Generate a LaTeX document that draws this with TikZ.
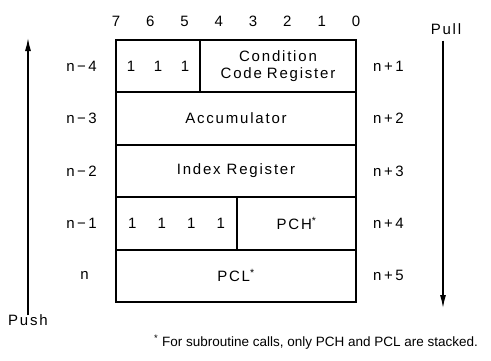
\documentclass[tikz,border=0pt]{standalone}
\usepackage{fontspec}
\setmainfont{Liberation Sans}[LetterSpace=12]
\usepackage{tikz}
\usetikzlibrary{positioning}
\usetikzlibrary{arrows.meta}
\tikzset {
  % one register cell of the stacked frame
  cell/.style = {draw, line width=2pt, inner sep=0pt, outer sep=0pt,
    minimum height=52.4pt, align=center, font=\fontsize{15}{17}\selectfont},
  % bit numbers and stack addresses
  lab/.style = {inner sep=1pt, font=\fontsize{15}{17}\selectfont},
  % push and pull directions
  stackdir/.style = {line width=1.3pt, -{Latex[length=13pt, width=6pt]}},
}
\newcommand{\one}{\makebox[27pt]{1}}

\begin{document}
\begin{tikzpicture}[x=1pt, y=1pt]
  \useasboundingbox (0,0) rectangle (491,360);

  % bit numbers
  \node[lab] (b7) at (116,339) {7};
  \node[lab] (b6) at (150.3,339) {6};
  \node[lab] (b5) at (184.6,339) {5};
  \node[lab] (b4) at (218.9,339) {4};
  \node[lab] (b3) at (253.1,339) {3};
  \node[lab] (b2) at (287.4,339) {2};
  \node[lab] (b1) at (321.7,339) {1};
  \node[lab] (b0) at (356,339) {0};

  % the stacked registers
  \node[cell, text width=84pt, anchor=north west] (ones3) at (116,320) {\one\one\one};
  \node[cell, text width=156pt] (ccr) [right=0pt of ones3] {Condition\\Code Register};
  \node[cell, minimum width=240pt] (acc) [below=0pt of ones3.south west, anchor=north west] {Accumulator};
  \node[cell, minimum width=240pt] (idx) [below=0pt of acc] {Index Register};
  \node[cell, text width=121pt] (ones4) [below=0pt of idx.south west, anchor=north west] {\makebox[29.5pt]{1}\makebox[29.5pt]{1}\makebox[29.5pt]{1}\makebox[29.5pt]{1}};
  \node[cell, text width=119pt] (pch) [right=0pt of ones4] {PCH\textsuperscript{*}};
  \node[cell, minimum width=240pt] (pcl) [below=0pt of ones4.south west, anchor=north west] {PCL\textsuperscript{*}};

  % addresses while pushing
  \node[lab] (m4) [left=18pt of ones3] {n\,−\,4};
  \node[lab] (m3) [left=18pt of acc] {n\,−\,3};
  \node[lab] (m2) [left=18pt of idx] {n\,−\,2};
  \node[lab] (m1) [left=18pt of ones4] {n\,−\,1};
  \node[lab] (m0) [left=26pt of pcl] {n};

  % addresses while pulling
  \node[lab] (p1) [right=16pt of ccr] {n\,+\,1};
  \node[lab] (p2) [right=16pt of acc] {n\,+\,2};
  \node[lab] (p3) [right=16pt of idx] {n\,+\,3};
  \node[lab] (p4) [right=16pt of pch] {n\,+\,4};
  \node[lab] (p5) [right=16pt of pcl] {n\,+\,5};

  % push and pull
  \node[lab] (push) at (28,40) {Push};
  \node[lab] (pull) at (446,331) {Pull};
  \coordinate (pushtop) at (28,322);
  \coordinate (pullend) at (443,52);
  \draw[stackdir] ([yshift=-2pt]push.north) -- (pushtop);
  \draw[stackdir] ([yshift=-5pt]pull.south -| pullend) -- (pullend);

  \node[lab, anchor=west, font=\fontsize{13.5}{16}\selectfont\addfontfeature{LetterSpace=0}] (note) at (153,18)
    {\textsuperscript{*} For subroutine calls, only PCH and PCL are stacked.};
\end{tikzpicture}
\end{document}
